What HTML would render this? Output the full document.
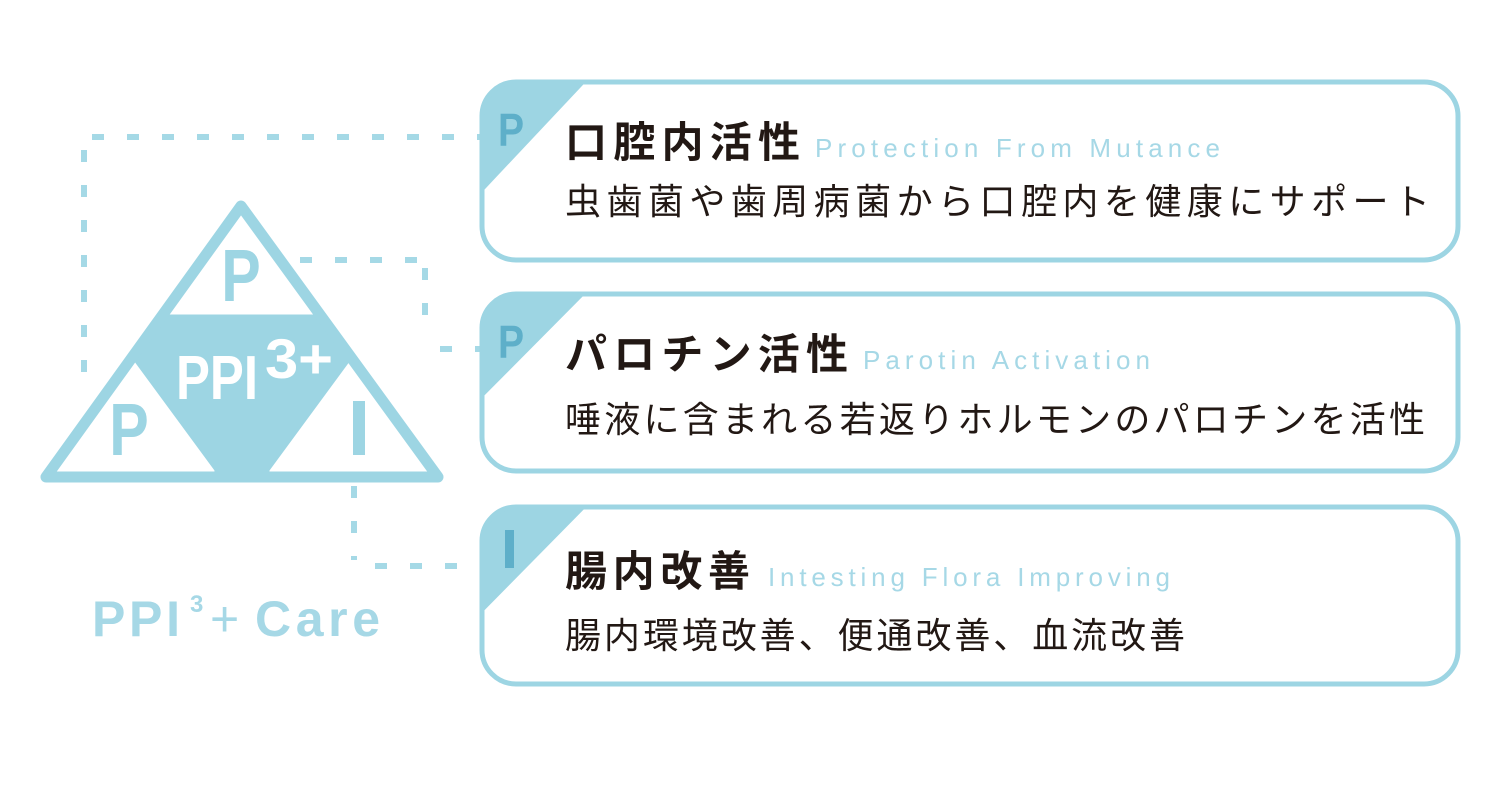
<!DOCTYPE html>
<html><head><meta charset="utf-8"><style>html,body{margin:0;padding:0;background:#fff}svg{display:block}</style></head><body>
<svg width="1500" height="800" viewBox="0 0 1500 800" xmlns="http://www.w3.org/2000/svg">
<defs>
<clipPath id="c1"><rect x="482" y="82" width="976" height="178" rx="34"/></clipPath>
<clipPath id="c2"><rect x="482" y="294" width="976" height="177" rx="34"/></clipPath>
<clipPath id="c3"><rect x="482" y="507" width="976" height="177" rx="34"/></clipPath>
<clipPath id="tri"><polygon points="241,207 46,477 438,477"/></clipPath>
</defs>
<g stroke="#a5d9e6" stroke-width="6" stroke-dasharray="12 23" fill="none">
<line x1="92" y1="137" x2="480" y2="137"/>
<line x1="84" y1="150" x2="84" y2="395"/>
<line x1="300" y1="260" x2="430" y2="260"/>
<line x1="425" y1="268" x2="425" y2="336"/>
<line x1="440" y1="349" x2="480" y2="349"/>
<line x1="354" y1="486" x2="354" y2="560"/>
<line x1="375" y1="566" x2="465" y2="566"/>
</g>
<g fill="#9dd5e3">
<polygon points="470,70 597,70 470,205" clip-path="url(#c1)"/>
<polygon points="470,282 597,282 470,410" clip-path="url(#c2)"/>
<polygon points="470,496 597,496 470,625" clip-path="url(#c3)"/>
</g>
<g fill="none" stroke="#9dd5e3" stroke-width="5">
<rect x="482" y="82" width="976" height="178" rx="34"/>
<rect x="482" y="294" width="976" height="177" rx="34"/>
<rect x="482" y="507" width="976" height="177" rx="34"/>
</g>
<g fill="#5eafc9" font-family="Liberation Sans, sans-serif" font-weight="bold" font-size="46">
<text x="498" y="146" transform="scale(0.85 1)" transform-origin="498 146">P</text>
<text x="498" y="358" transform="scale(0.85 1)" transform-origin="498 358">P</text>
<rect x="505" y="530" width="9" height="38"/>
</g>
<g font-family="Liberation Sans, Noto Sans CJK JP, sans-serif">
<text x="565" y="157" font-size="42" font-weight="bold" fill="#221814" textLength="235" lengthAdjust="spacing">口腔内活性</text>
<text x="815" y="157" font-size="26" fill="#a6d8e6" textLength="405" lengthAdjust="spacing">Protection From Mutance</text>
<text x="565" y="214" font-size="36" fill="#221814" textLength="865" lengthAdjust="spacing">虫歯菌や歯周病菌から口腔内を健康にサポート</text>
<text x="565" y="369" font-size="42" font-weight="bold" fill="#221814" textLength="283" lengthAdjust="spacing">パロチン活性</text>
<text x="863" y="369" font-size="26" fill="#a6d8e6" textLength="287" lengthAdjust="spacing">Parotin Activation</text>
<text x="565" y="432" font-size="36" fill="#221814" textLength="860" lengthAdjust="spacing">唾液に含まれる若返りホルモンのパロチンを活性</text>
<text x="565" y="586" font-size="42" font-weight="bold" fill="#221814" textLength="185" lengthAdjust="spacing">腸内改善</text>
<text x="768" y="586" font-size="26" fill="#a6d8e6" textLength="402" lengthAdjust="spacing">Intesting Flora Improving</text>
<text x="565" y="648" font-size="36" fill="#221814" textLength="620" lengthAdjust="spacing">腸内環境改善、便通改善、血流改善</text>
</g>
<!-- triangle -->
<polygon points="241,207 46,477 438,477" fill="#fff"/>
<polygon points="140,314 345,314 375,352 275,478 210,478 108,352" fill="#9dd5e3" clip-path="url(#tri)"/>
<g fill="#fff" stroke="#fff" stroke-width="3" stroke-linejoin="round">
<polygon points="241,213 159,313 325,313"/>
<polygon points="127,354 50,471 213,471"/>
<polygon points="357,354 271,471 436,471"/>
</g>
<polygon points="241,206 46,477 438,477" fill="none" stroke="#9dd5e3" stroke-width="11" stroke-linejoin="round"/>
<g fill="#9dd5e3" font-family="Liberation Sans, sans-serif" font-weight="bold">
<text x="241" y="301" font-size="74" text-anchor="middle" transform="scale(0.8 1)" transform-origin="241 301">P</text>
<text x="129" y="455" font-size="74" text-anchor="middle" transform="scale(0.8 1)" transform-origin="129 455">P</text>
<rect x="353" y="401" width="12" height="54"/>
</g>
<g fill="#fff" font-family="Liberation Sans, sans-serif" font-weight="bold">
<text x="176" y="399" font-size="62" textLength="82" lengthAdjust="spacingAndGlyphs">PPI</text>
<text x="265" y="378" font-size="56" textLength="68" lengthAdjust="spacingAndGlyphs">3+</text>
</g>
<g fill="#a6d8e6" font-family="Liberation Sans, sans-serif" font-weight="bold">
<text x="92" y="636" font-size="50" textLength="88" lengthAdjust="spacing">PPI</text>
<text x="190" y="612" font-size="24">3</text>
<text x="210" y="636" font-size="50" font-weight="normal">+</text>
<text x="255" y="636" font-size="50" textLength="125" lengthAdjust="spacing">Care</text>
</g>
</svg>
</body></html>
